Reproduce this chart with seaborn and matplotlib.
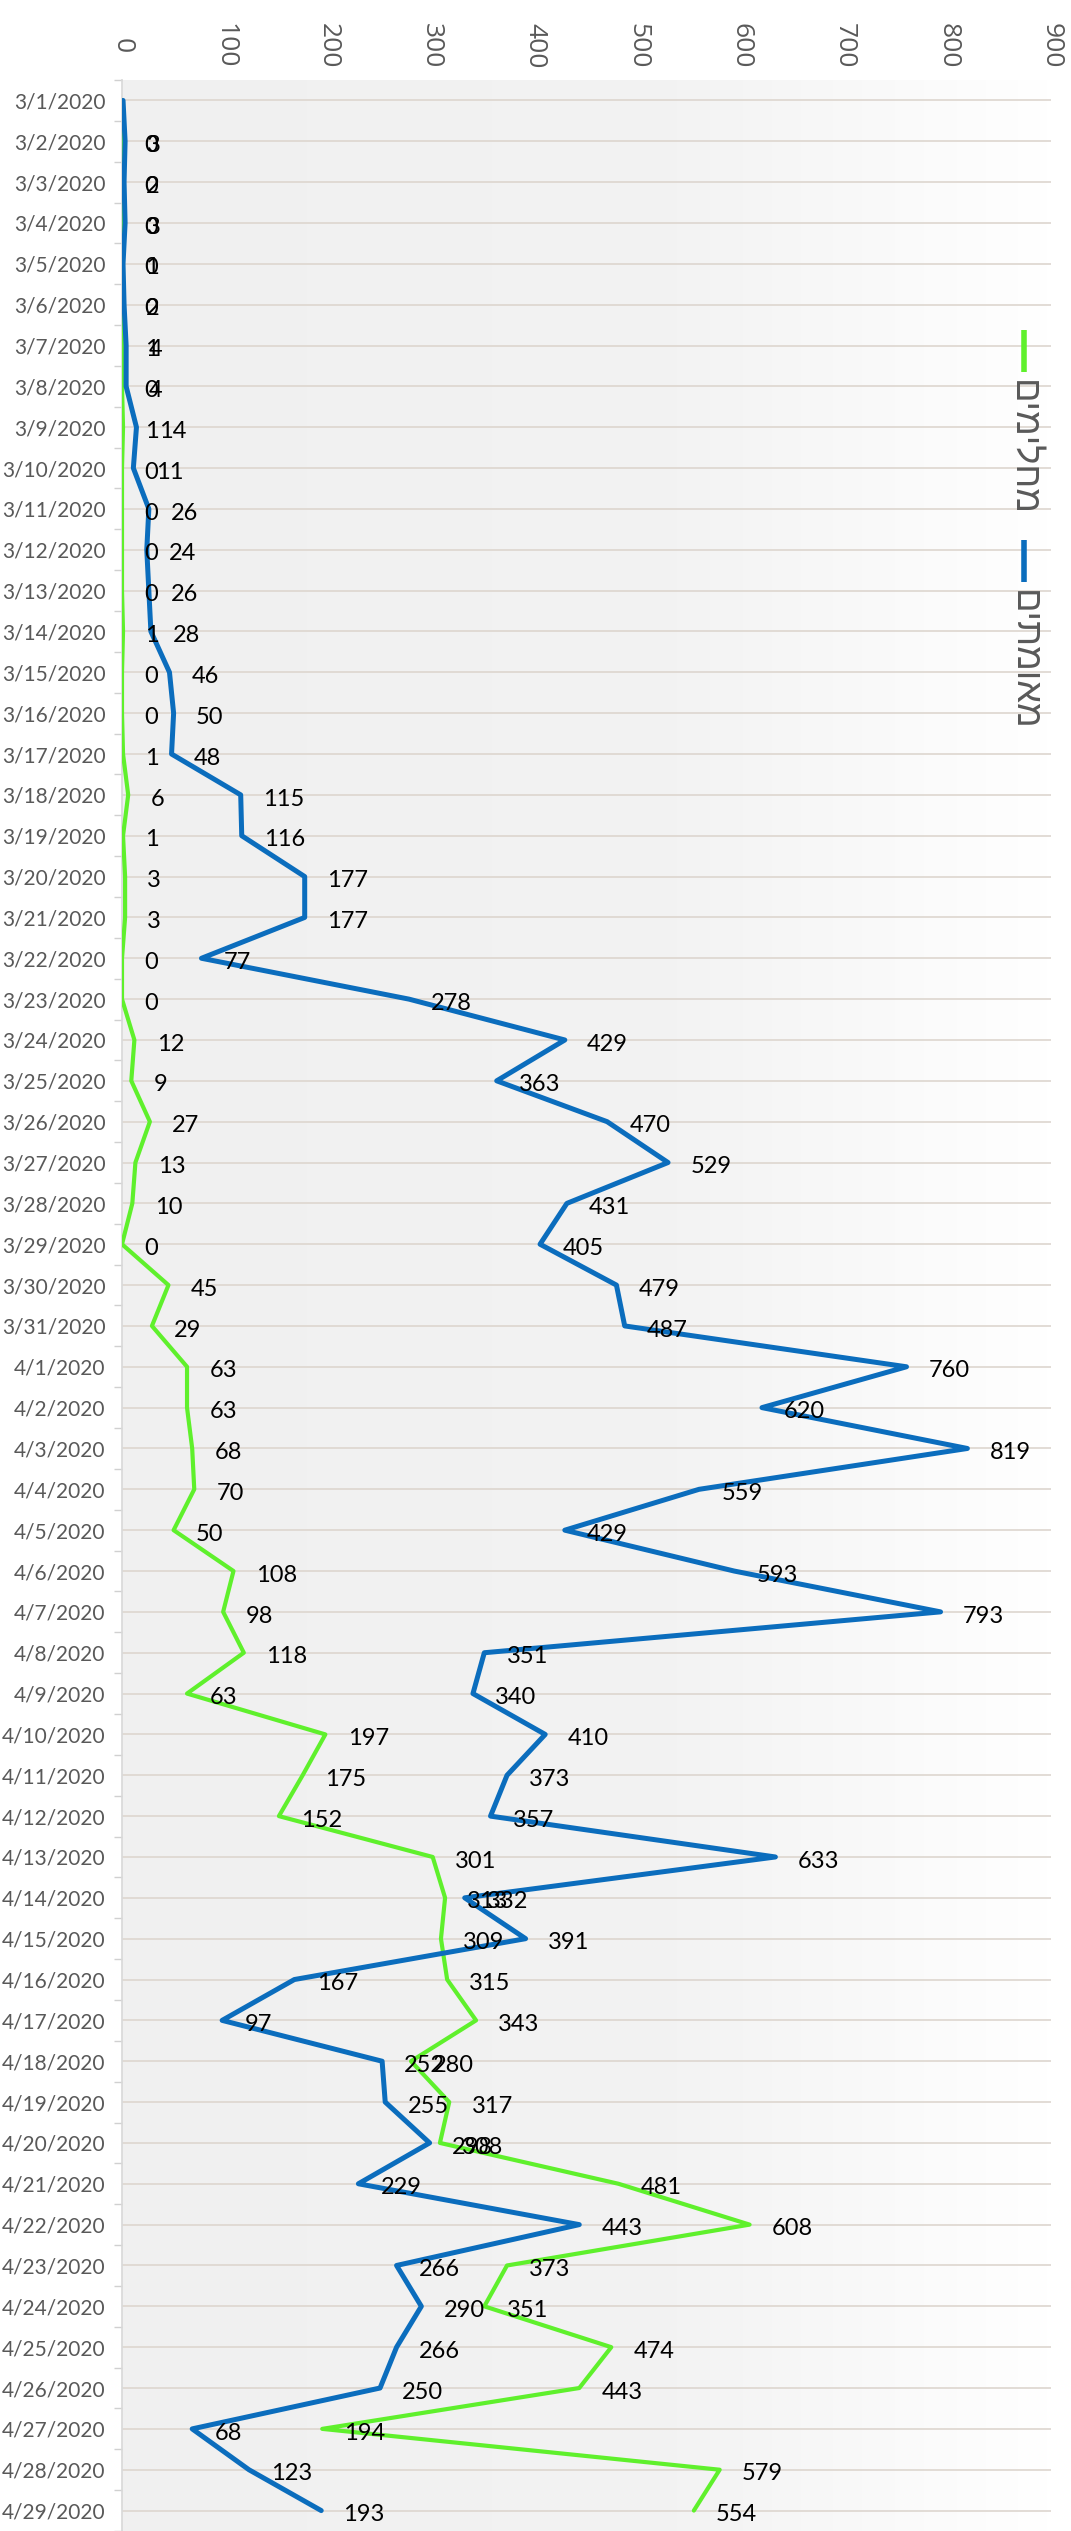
import numpy as np
import pandas as pd
import matplotlib.pyplot as plt
import seaborn as sns
from matplotlib.lines import Line2D
from matplotlib.colors import LinearSegmentedColormap

# Daily numbers, 1 March - 29 April 2020
dates = [
    "3/1/2020", "3/2/2020", "3/3/2020", "3/4/2020", "3/5/2020", "3/6/2020",
    "3/7/2020", "3/8/2020", "3/9/2020", "3/10/2020", "3/11/2020", "3/12/2020",
    "3/13/2020", "3/14/2020", "3/15/2020", "3/16/2020", "3/17/2020", "3/18/2020",
    "3/19/2020", "3/20/2020", "3/21/2020", "3/22/2020", "3/23/2020", "3/24/2020",
    "3/25/2020", "3/26/2020", "3/27/2020", "3/28/2020", "3/29/2020", "3/30/2020",
    "3/31/2020", "4/1/2020", "4/2/2020", "4/3/2020", "4/4/2020", "4/5/2020",
    "4/6/2020", "4/7/2020", "4/8/2020", "4/9/2020", "4/10/2020", "4/11/2020",
    "4/12/2020", "4/13/2020", "4/14/2020", "4/15/2020", "4/16/2020", "4/17/2020",
    "4/18/2020", "4/19/2020", "4/20/2020", "4/21/2020", "4/22/2020", "4/23/2020",
    "4/24/2020", "4/25/2020", "4/26/2020", "4/27/2020", "4/28/2020", "4/29/2020",
]
confirmed = [
    1, 3, 2, 3, 1, 2, 4, 4, 14, 11, 26, 24, 26, 28, 46, 50, 48, 115, 116, 177,
    177, 77, 278, 429, 363, 470, 529, 431, 405, 479, 487, 760, 620, 819, 559,
    429, 593, 793, 351, 340, 410, 373, 357, 633, 332, 391, 167, 97, 252, 255,
    298, 229, 443, 266, 290, 266, 250, 68, 123, 193,
]
recovered = [
    0, 0, 0, 0, 0, 0, 1, 0, 1, 0, 0, 0, 0, 1, 0, 0, 1, 6, 1, 3,
    3, 0, 0, 12, 9, 27, 13, 10, 0, 45, 29, 63, 63, 68, 70, 50, 108, 98, 118, 63,
    197, 175, 152, 301, 313, 309, 315, 343, 280, 317, 308, 481, 608, 373, 351,
    474, 443, 194, 579, 554,
]
series_names = ["מחלימים", "מאומתים"]

green = "#5ff02c"
blue = "#0b6dbd"
grey = "#595959"

sns.set_theme(style="white")
plt.rcParams["font.family"] = ["Lato", "DejaVu Sans"]

W, H = 1071, 2531
fig = plt.figure(figsize=(W / 100, H / 100), dpi=100)
ax = fig.add_axes([122 / W, 0, (1051 - 122) / W, 1 - 80 / H])

# light grey plot area that fades to white on the right
cmap = LinearSegmentedColormap.from_list("bg", [(0, "#f0f0f0"), (0.6, "#f3f3f3"), (1, "#ffffff")])
ax.imshow(np.linspace(0, 1, 256).reshape(1, -1), extent=[0, 1, 0, 1], transform=ax.transAxes,
          aspect="auto", cmap=cmap, zorder=0)

df = pd.DataFrame({"date": dates, "pos": np.arange(len(dates)),
                   "confirmed": confirmed, "recovered": recovered})

sns.lineplot(data=df, x="recovered", y="pos", orient="y", sort=False, estimator=None,
             color=green, lw=3.0, ax=ax, zorder=3)
sns.lineplot(data=df, x="confirmed", y="pos", orient="y", sort=False, estimator=None,
             color=blue, lw=3.6, ax=ax, zorder=4)

# data labels (first row has none in the original)
for i in range(1, len(df)):
    for col in ["recovered", "confirmed"]:
        v = df[col].iloc[i]
        ax.annotate(str(v), (v, i), xytext=(16, -3), textcoords="offset points",
                    ha="left", va="center", fontsize=17, color="black", zorder=6)

ax.set_xlim(0, 900)
ax.set_ylim(len(dates) - 0.5, -0.5)
ax.set_xlabel("")
ax.set_ylabel("")

ax.set_xticks(range(0, 901, 100))
ax.xaxis.tick_top()
ax.tick_params(axis="x", top=False, bottom=False, labeltop=True, labelbottom=False,
               length=0, pad=25, labelsize=19, labelcolor=grey, labelrotation=-90)
for t in ax.get_xticklabels():
    t.set_verticalalignment("center")
    t.set_horizontalalignment("center")
    t.set_family(["Open Sans", "DejaVu Sans"])

ax.set_yticks(df["pos"], labels=dates)
ax.set_yticks(np.arange(-0.5, len(dates), 1), minor=True)
ax.tick_params(axis="y", which="major", length=0, pad=12, labelsize=15, labelcolor=grey)
ax.tick_params(axis="y", which="minor", left=True, length=6, width=1, color="#d0d0d0")

ax.grid(False)
ax.grid(axis="y", which="major", color="#ddd6cf", lw=1.2)
ax.set_axisbelow(True)
for s in ["top", "right", "bottom"]:
    ax.spines[s].set_visible(False)
ax.spines["left"].set_color("#d9d9d9")

# rotated legend on the right
for name, color, y0 in [(series_names[0], green, 330), (series_names[1], blue, 540)]:
    fig.add_artist(Line2D([1024 / W, 1024 / W], [1 - y0 / H, 1 - (y0 + 42) / H],
                          color=color, lw=4, solid_capstyle="butt"))
    fig.text(1023 / W, 1 - (y0 + 50) / H, name[::-1], rotation=-90, ha="center", va="top",
             fontsize=26, color=grey, family=["Liberation Sans", "DejaVu Sans"])

fig.savefig("out.png", dpi=100)
